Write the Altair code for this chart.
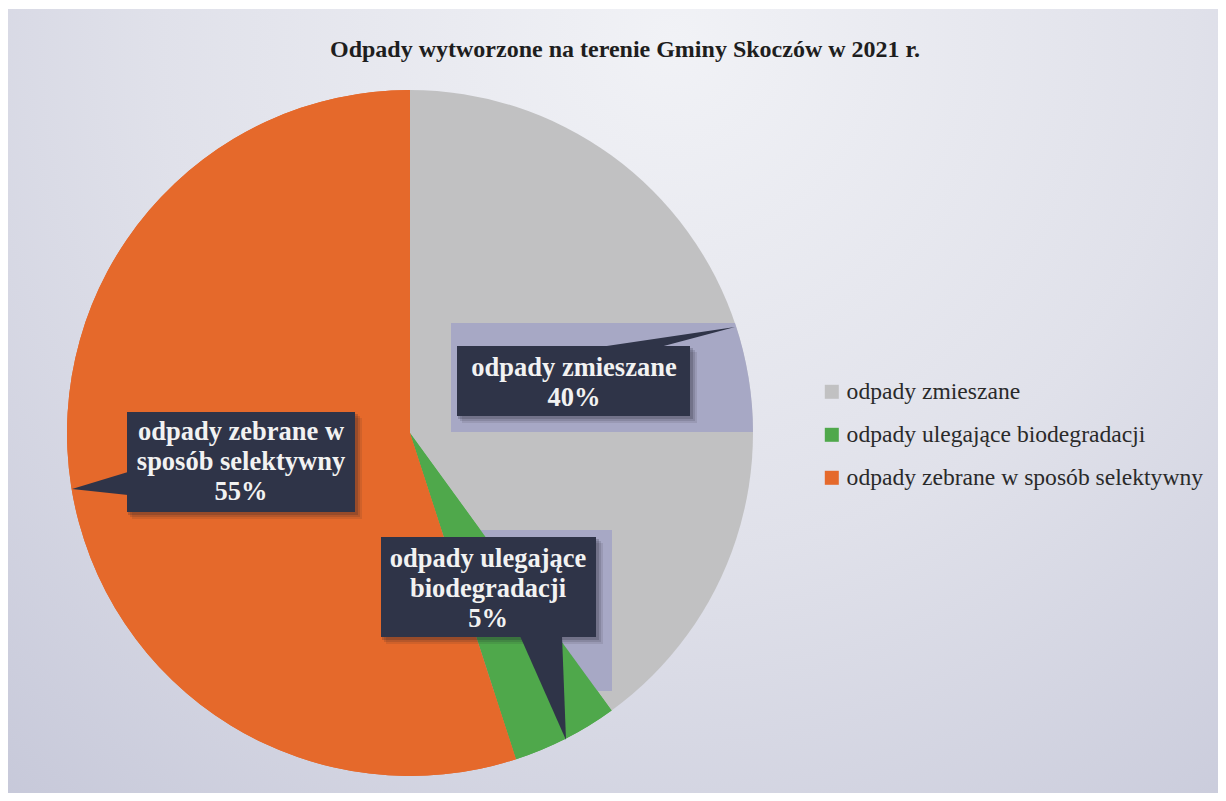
import altair as alt
import pandas as pd

# ---- data -------------------------------------------------------------
categories = [
    "odpady zmieszane",
    "odpady ulegające biodegradacji",
    "odpady zebrane w sposób selektywny",
]
shares = [40, 5, 55]
callout_lines = [
    ["odpady zmieszane", "40%"],
    ["odpady ulegające", "biodegradacji", "5%"],
    ["odpady zebrane w", "sposób selektywny", "55%"],
]
title_text = "Odpady wytworzone  na terenie Gminy Skoczów w 2021 r."
colors = ["#c1c1c2", "#4fa84b", "#e5692b"]

# ---- layout (chart coordinates) ---------------------------------------
W, H = 1210, 785
CX, CY, R = 402, 425, 343
DARK = "#2f3448"
SERIF = "Liberation Serif"

pie_df = pd.DataFrame({"cat": categories, "share": shares, "ord": [0, 1, 2]})
one = pd.DataFrame({"k": [0]})

bg = alt.Chart(one).mark_rect(
    fill=alt.Gradient(
        gradient="radial",
        x1=0.55, y1=0.2, r1=0.0,
        x2=0.55, y2=0.2, r2=0.95,
        stops=[
            alt.GradientStop(offset=0, color="#f1f2f6"),
            alt.GradientStop(offset=0.45, color="#e0e1ea"),
            alt.GradientStop(offset=1, color="#c0c2d5"),
        ],
    )
).encode(x=alt.value(0), x2=alt.value(W), y=alt.value(1), y2=alt.value(H))

color_enc = alt.Color(
    "cat:N",
    scale=alt.Scale(domain=categories, range=colors),
    sort=categories,
    legend=alt.Legend(
        orient="none", legendX=812, legendY=372, title=None,
        symbolType="square", symbolSize=196, symbolStrokeWidth=0,
        labelFont=SERIF, labelFontSize=23.6, labelColor="#2a2a2a",
        rowPadding=18, labelOffset=3, labelLimit=600, padding=0,
    ),
)

pie = alt.Chart(pie_df).mark_arc(radius=R, strokeWidth=0).encode(
    theta=alt.Theta("share:Q", stack=True),
    color=color_enc,
    order=alt.Order("ord:Q"),
    x=alt.value(CX), y=alt.value(CY),
)

# lavender highlight areas behind callouts (visible over grey slice only)
LAV = "#9d9fc6"
lav1 = alt.Chart(one).mark_point(
    shape="M0,0L284,0A343,343,0,0,1,302,109L0,109Z",
    size=4, filled=True, fill=LAV, opacity=0.75, strokeWidth=0,
).encode(x=alt.value(443), y=alt.value(315))
lav2 = alt.Chart(one).mark_rect(fill=LAV, opacity=0.75).encode(
    x=alt.value(364), x2=alt.value(604), y=alt.value(522), y2=alt.value(683))

pie_cover = alt.Chart(pie_df).mark_arc(radius=R, strokeWidth=0).encode(
    theta=alt.Theta("share:Q", stack=True),
    color=alt.Color("cat:N", scale=alt.Scale(domain=categories, range=colors), legend=None),
    order=alt.Order("ord:Q"),
    opacity=alt.condition(alt.datum.ord == 0, alt.value(0), alt.value(1)),
    x=alt.value(CX), y=alt.value(CY),
)

# callout boxes: (x0, y0, x1, y1)
boxes = [(449, 338, 682, 408), (373, 529, 588, 629), (119, 404, 347, 504)]
layers = [bg, pie, lav1, lav2, pie_cover]
for off, op in [(7, 0.10), (5, 0.14), (3, 0.2)]:
    for (x0, y0, x1, y1) in boxes:
        layers.append(alt.Chart(one).mark_rect(fill="#1c1f2c", opacity=op).encode(
            x=alt.value(x0 + off - 2), x2=alt.value(x1 + off),
            y=alt.value(y0 + off - 1), y2=alt.value(y1 + off)))
for (x0, y0, x1, y1) in boxes:
    layers.append(alt.Chart(one).mark_rect(fill=DARK).encode(
        x=alt.value(x0), x2=alt.value(x1), y=alt.value(y0), y2=alt.value(y1)))

# pointers (custom symbol paths, size=4 -> 1:1 pixel scale)
pointers = [
    (592, 338, "M0,1L135,-19L60,1Z"),
    (512, 629, "M0,-1L42,-1L46,103Z"),
    (119, 464, "M1,0L1,23L-55,17Z"),
]
for (px, py, path) in pointers:
    layers.append(alt.Chart(one).mark_point(
        shape=path, size=4, filled=True, fill=DARK, opacity=1, strokeWidth=0
    ).encode(x=alt.value(px), y=alt.value(py)))

# callout texts
text_pos = [(566, 368), (480, 559), (233, 432)]
for (tx, ty), lines in zip(text_pos, callout_lines):
    layers.append(alt.Chart(one).mark_text(
        text=lines, font=SERIF, fontSize=26.5, fontWeight="bold", color="#f2f2f2",
        align="center", baseline="alphabetic", lineHeight=30,
    ).encode(x=alt.value(tx), y=alt.value(ty)))

title = alt.Chart(one).mark_text(
    text=title_text, font=SERIF, fontSize=24, fontWeight="bold", color="#1e1e1e",
    align="center", baseline="alphabetic",
).encode(x=alt.value(617), y=alt.value(49))
layers.append(title)

chart = alt.layer(*layers).properties(
    width=W, height=H, autosize="none", padding=0, background="white"
).configure_view(strokeWidth=0)

chart.save("out.html", embed_options={"renderer": "svg", "actions": False})
